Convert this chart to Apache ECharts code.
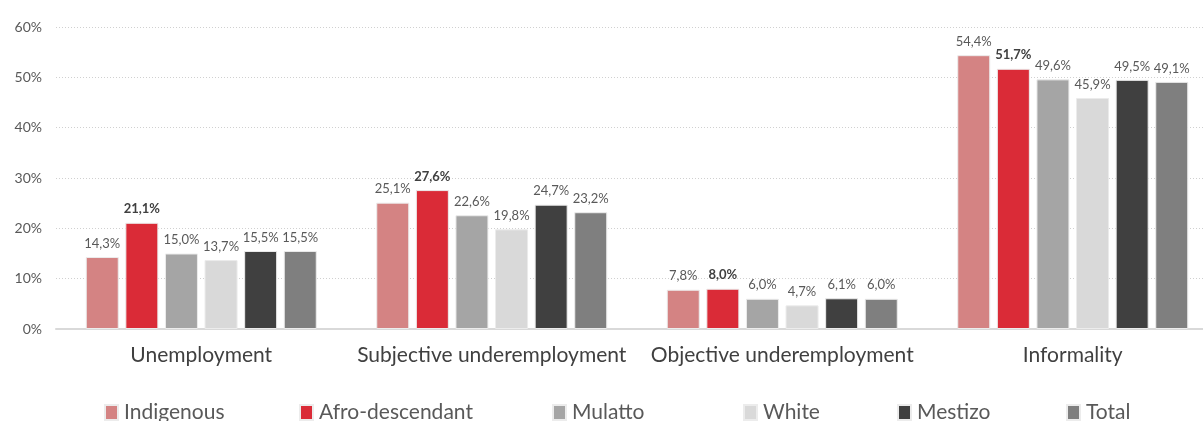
<!DOCTYPE html>
<html>
<head>
<meta charset="utf-8">
<script src="https://cdn.jsdelivr.net/npm/echarts@6/dist/echarts.min.js"></script>
<style>
  html, body { margin: 0; padding: 0; background: #fff; }
  #chart { width: 1203px; height: 421px; }
</style>
</head>
<body>
<div id="chart"></div>
<script>
  var categories = ['Unemployment', 'Subjective underemployment', 'Objective underemployment', 'Informality'];
  var seriesNames = ['Indigenous', 'Afro-descendant', 'Mulatto', 'White', 'Mestizo', 'Total'];
  var indigenous = [14.3, 25.1, 7.8, 54.4];
  var afroDescendant = [21.1, 27.6, 8.0, 51.7];
  var mulatto = [15.0, 22.6, 6.0, 49.6];
  var white = [13.7, 19.8, 4.7, 45.9];
  var mestizo = [15.5, 24.7, 6.1, 49.5];
  var total = [15.5, 23.2, 6.0, 49.1];
  var yTicks = [0, 10, 20, 30, 40, 50, 60];

  var values = [indigenous, afroDescendant, mulatto, white, mestizo, total];
  var colors = ['#D48383', '#DA2B37', '#A5A5A5', '#D9D9D9', '#404040', '#7F7F7F'];
  var legendLeft = [104, 299, 552, 743, 897, 1066];
  var font = 'Lato, "Open Sans", sans-serif';

  var chart = echarts.init(document.getElementById('chart'));

  var series = seriesNames.map(function (name, i) {
    var isBold = i === 1;
    return {
      name: name,
      type: 'bar',
      data: values[i],
      barWidth: 33,
      barGap: '20%',
      itemStyle: {
        color: colors[i],
        borderColor: '#ececec',
        borderWidth: 1
      },
      label: {
        show: true,
        position: 'top',
        distance: 7,
        fontFamily: font,
        fontSize: 13,
        fontWeight: isBold ? 'bold' : 'normal',
        color: isBold ? '#404040' : '#595959',
        formatter: function (p) {
          return p.value.toFixed(1).replace('.', ',') + '%';
        }
      }
    };
  });

  var legends = seriesNames.map(function (name, i) {
    return {
      data: [name],
      left: legendLeft[i],
      top: 402,
      padding: 0,
      itemWidth: 13,
      itemHeight: 15,
      itemGap: 5,
      icon: 'rect',
      textStyle: {
        fontFamily: font,
        fontSize: 21,
        color: '#595959',
        padding: [0, 0, 0, 1]
      }
    };
  });

  chart.setOption({
    animation: false,
    grid: {
      left: 56,
      right: -15,
      top: 27,
      bottom: 92,
      containLabel: false,
      outerBoundsMode: 'none'
    },
    legend: legends,
    xAxis: {
      type: 'category',
      data: categories,
      axisLine: { lineStyle: { color: '#d9d9d9', width: 2 } },
      axisTick: { show: false },
      axisLabel: {
        interval: 0,
        fontFamily: font,
        fontSize: 21,
        color: '#404040',
        margin: 16
      }
    },
    yAxis: {
      type: 'value',
      min: yTicks[0],
      max: yTicks[yTicks.length - 1],
      interval: 10,
      axisLine: { show: false },
      axisTick: { show: false },
      axisLabel: {
        fontFamily: font,
        fontSize: 14,
        color: '#595959',
        margin: 14,
        formatter: '{value}%'
      },
      splitLine: {
        lineStyle: { color: '#d0d0d0', type: [1, 2], width: 1 }
      }
    },
    series: series
  });
</script>
</body>
</html>
